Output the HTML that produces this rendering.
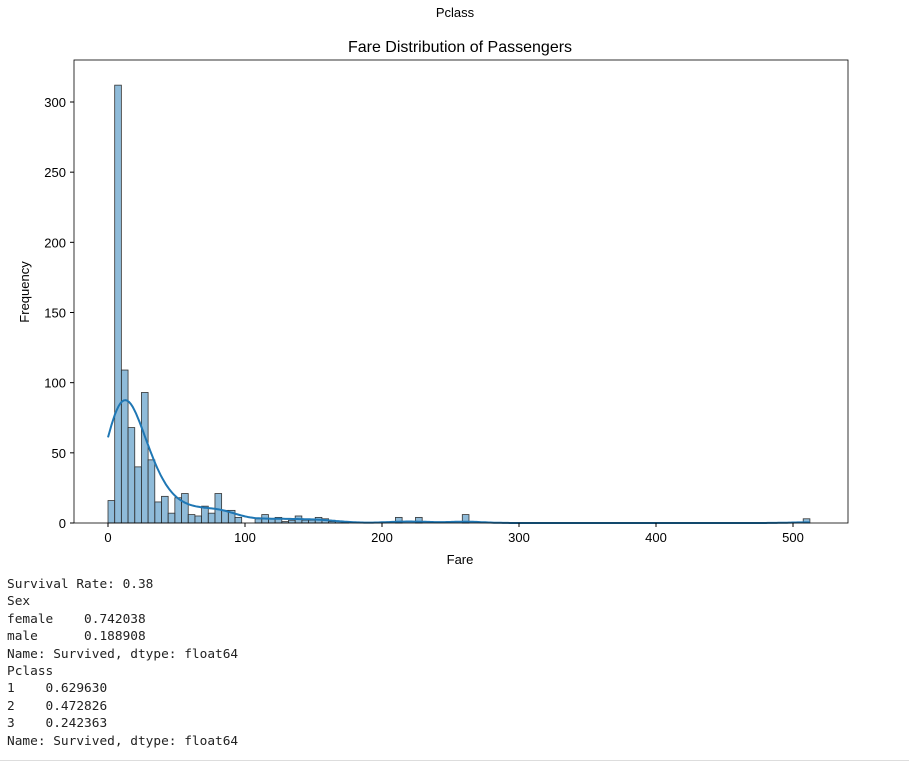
<!DOCTYPE html>
<html><head><meta charset="utf-8"><style>
body{margin:0;background:#fff;width:909px;height:783px;overflow:hidden;font-family:"Liberation Sans",sans-serif}
#out{position:absolute;left:7px;top:576px;font-family:"DejaVu Sans Mono","Liberation Mono",monospace;font-size:12.8px;line-height:17.4px;color:#222;white-space:pre;margin:0}
#rule{position:absolute;left:0;top:760px;width:909px;height:1px;background:#ddd}
</style></head><body>
<svg id="chart" width="909" height="570" style="position:absolute;left:0;top:0">
<text x="455" y="17" font-size="13" text-anchor="middle">Pclass</text>
<text x="460" y="52" font-size="16" text-anchor="middle">Fare Distribution of Passengers</text>
<g id="bars"></g><path id="kde" fill="none" stroke="#1f77b4" stroke-width="2"/>
<rect x="74" y="60" width="774" height="463" fill="none" stroke="#000" stroke-width="0.8"/>
<g id="ticks"></g>
<text x="460" y="564" font-size="13" text-anchor="middle">Fare</text>
<text transform="translate(29,292) rotate(-90)" font-size="13" text-anchor="middle">Frequency</text>
</svg>
<pre id="out">Survival Rate: 0.38
Sex
female    0.742038
male      0.188908
Name: Survived, dtype: float64
Pclass
1    0.629630
2    0.472826
3    0.242363
Name: Survived, dtype: float64</pre>
<div id="rule"></div>
<script>
const counts=[16,312,109,68,40,93,45,15,19,7,18,21,6,5,12,7,21,9,9,4,0,0,3,6,3,4,1,2,5,2,2,4,3,1,1,1,0,0,0,0,0,0,0,4,0,0,4,0,0,0,0,0,0,6,0,0,0,0,0,0,0,0,0,0,0,0,0,0,0,0,0,0,0,0,0,0,0,0,0,0,0,0,0,0,0,0,0,0,0,0,0,0,0,0,0,0,0,0,0,0,0,0,0,0,3];
const xTicks=[0,100,200,300,400,500];
const yTicks=[0,50,100,150,200,250,300];
const fareMax=512.33;
const NS="http://www.w3.org/2000/svg";
const X=v=>108+v*1.37, Y=v=>523-v*421/300;
const bw=fareMax/counts.length;
const bars=document.getElementById('bars');
counts.forEach((c,i)=>{if(!c)return;const r=document.createElementNS(NS,'rect');


r.setAttribute('x',X(i*bw));r.setAttribute('width',X((i+1)*bw)-X(i*bw));r.setAttribute('y',Y(c));r.setAttribute('height',Y(0)-Y(c));
r.setAttribute('fill','rgba(31,119,180,0.5)');r.setAttribute('stroke','#333');r.setAttribute('stroke-width','0.8');bars.appendChild(r);});
let n=0,m=0;counts.forEach((c,i)=>{n+=c;m+=c*(i+.5)*bw});m/=n;let v=0;counts.forEach((c,i)=>{v+=c*((i+.5)*bw-m)**2});const sd=Math.sqrt(v/n);const h=sd*Math.pow(n,-0.2)*1.0;
let d='';for(let k=0;k<=400;k++){const x=k/400*fareMax;let s=0;counts.forEach((c,i)=>{const z=(x-(i+.5)*bw)/h;s+=c*Math.exp(-z*z/2)});s=s/(h*Math.sqrt(2*Math.PI))*bw;d+=(k?'L':'M')+X(x).toFixed(1)+','+Y(s).toFixed(1);}
document.getElementById('kde').setAttribute('d',d);
const t=document.getElementById('ticks');
xTicks.forEach(v=>{const l=document.createElementNS(NS,'line');l.setAttribute('x1',X(v));l.setAttribute('x2',X(v));l.setAttribute('y1',523);l.setAttribute('y2',527);l.setAttribute('stroke','#000');t.appendChild(l);
const s=document.createElementNS(NS,'text');s.setAttribute('x',X(v));s.setAttribute('y',542);s.setAttribute('font-size','13');s.setAttribute('text-anchor','middle');s.textContent=v;t.appendChild(s);});
yTicks.forEach(v=>{const l=document.createElementNS(NS,'line');l.setAttribute('x1',70);l.setAttribute('x2',74);l.setAttribute('y1',Y(v));l.setAttribute('y2',Y(v));l.setAttribute('stroke','#000');t.appendChild(l);
const s=document.createElementNS(NS,'text');s.setAttribute('x',66);s.setAttribute('y',Y(v)+5);s.setAttribute('font-size','13');s.setAttribute('text-anchor','end');s.textContent=v;t.appendChild(s);});
</script>
</body></html>
